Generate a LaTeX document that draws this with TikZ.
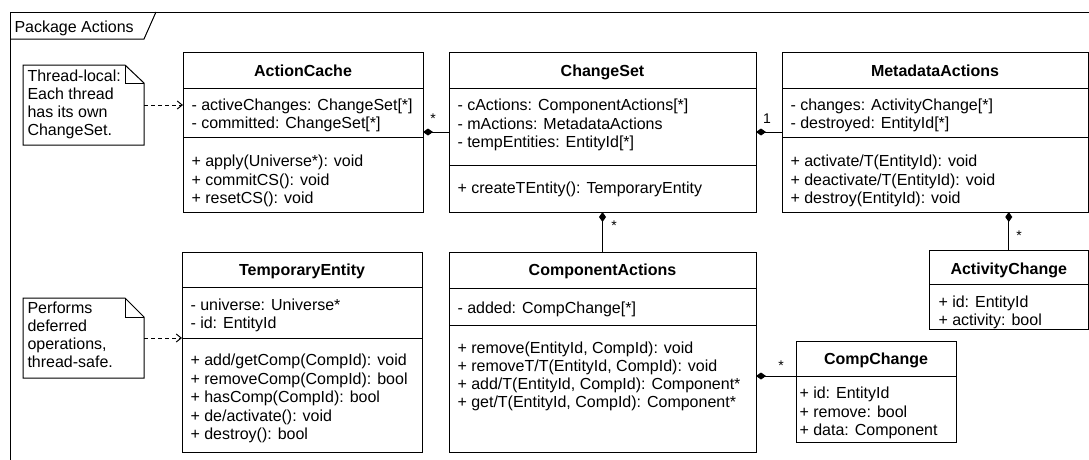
\documentclass[tikz,border=0pt]{standalone}
\usepackage{fontspec}
\setmainfont{Liberation Sans}
\usetikzlibrary{arrows.meta}
\newcommand\umllines[5]{\foreach \t [count=\i] in {#5} {\node[ln] (#1\i) at (#2,{#3+#4*(\i-1)}) {\t};}}
\begin{document}
\begin{tikzpicture}[x=1pt,y=-1pt,line width=1pt,
  box/.style={draw,inner sep=0pt,outer sep=0pt,anchor=north west},
  ln/.style={anchor=base west,inner sep=0pt,font=\fontsize{16}{18}\selectfont},
  ttl/.style={anchor=base,inner sep=0pt,font=\fontsize{16}{18}\selectfont\bfseries},
  mult/.style={anchor=base,inner sep=0pt,font=\fontsize{14}{16}\selectfont},
  comp/.style={{Diamond[length=10pt,width=7pt]}-},
  dep/.style={dash pattern=on 4pt off 3pt,-{Straight Barb[length=5pt,width=8pt]}}]
\useasboundingbox (0,0) rectangle (1089,459);
% frame
\draw (10,470) -- (10,12) -- (1100,12);
\draw (10,39) -- (144,39) -- (156,12);
\node[ln] (pkg) at (14,32.5) {Package Actions};

% ActionCache
\node[box,minimum width=240pt,minimum height=160pt] (ac) at (183,52) {};
\draw (ac.west |- 0,88) -- (ac.east |- 0,88);
\draw (ac.west |- 0,137) -- (ac.east |- 0,137);
\node[ttl] (act) at (303,76) {ActionCache};
\umllines{aca}{191}{110.5}{18}{{- activeChanges: ChangeSet[*]},{- committed: ChangeSet[*]}}
\umllines{acm}{191}{166.5}{18.5}{{+ apply(Universe*): void},{+ commitCS(): void},{+ resetCS(): void}}

% ChangeSet
\node[box,minimum width=307pt,minimum height=160pt] (cs) at (449,52) {};
\draw (cs.west |- 0,88) -- (cs.east |- 0,88);
\draw (cs.west |- 0,165) -- (cs.east |- 0,165);
\node[ttl] (cst) at (602.5,76) {ChangeSet};
\umllines{csa}{457}{110.5}{18.5}{{- cActions: ComponentActions[*]},{- mActions: MetadataActions},{- tempEntities: EntityId[*]}}
\umllines{csm}{457}{193.5}{18}{{+ createTEntity(): TemporaryEntity}}

% MetadataActions
\node[box,minimum width=306.5pt,minimum height=160pt] (md) at (782,52) {};
\draw (md.west |- 0,88) -- (md.east |- 0,88);
\draw (md.west |- 0,137) -- (md.east |- 0,137);
\node[ttl] (mdt) at (935,76) {MetadataActions};
\umllines{mda}{790}{110.5}{18}{{- changes: ActivityChange[*]},{- destroyed: EntityId[*]}}
\umllines{mdm}{790}{166.5}{18.5}{{+ activate/T(EntityId): void},{+ deactivate/T(EntityId): void},{+ destroy(EntityId): void}}

% TemporaryEntity
\node[box,minimum width=240pt,minimum height=200pt] (te) at (182,252) {};
\draw (te.west |- 0,287) -- (te.east |- 0,287);
\draw (te.west |- 0,338) -- (te.east |- 0,338);
\node[ttl] (tet) at (302,275.5) {TemporaryEntity};
\umllines{tea}{190}{310.5}{17.5}{{- universe: Universe*},{- id: EntityId}}
\umllines{tem}{190}{365.5}{18.6}{{+ add/getComp(CompId): void},{+ removeComp(CompId): bool},{+ hasComp(CompId): bool},{+ de/activate(): void},{+ destroy(): bool}}

% ComponentActions
\node[box,minimum width=307pt,minimum height=200pt] (ca) at (449,252) {};
\draw (ca.west |- 0,288) -- (ca.east |- 0,288);
\draw (ca.west |- 0,325) -- (ca.east |- 0,325);
\node[ttl] (cat) at (602.5,275.5) {ComponentActions};
\umllines{caa}{457}{313.5}{18}{{- added: CompChange[*]}}
\umllines{cam}{457}{353.5}{18}{{+ remove(EntityId, CompId): void},{+ removeT/T(EntityId, CompId): void},{+ add/T(EntityId, CompId): Component*},{+ get/T(EntityId, CompId): Component*}}

% ActivityChange
\node[box,minimum width=159.5pt,minimum height=79pt] (at) at (929,250) {};
\draw (at.west |- 0,284) -- (at.east |- 0,284);
\node[ttl] (att) at (1008.75,274.5) {ActivityChange};
\umllines{ata}{938}{307.5}{18}{{+ id: EntityId},{+ activity: bool}}

% CompChange
\node[box,minimum width=160pt,minimum height=101pt] (cch) at (796,341) {};
\coordinate (cch-sep) at (796,376);
\draw (cch-sep) -- (cch.east |- cch-sep);
\node[ttl] (ccht) at (876,364.5) {CompChange};
\umllines{ccha}{799}{398.5}{18.5}{{+ id: EntityId},{+ remove: bool},{+ data: Component}}

% notes
\node[inner sep=0pt,minimum width=120pt,minimum height=79pt,anchor=north west] (n1) at (23,65) {};
\draw (n1.north west) -- ([xshift=-19pt]n1.north east) -- ([yshift=-18pt]n1.north east) -- (n1.south east) -- (n1.south west) -- cycle;
\draw ([xshift=-19pt]n1.north east) -- ([xshift=-19pt,yshift=-18pt]n1.north east) -- ([yshift=-18pt]n1.north east);
\umllines{n1l}{27}{81.5}{18}{{Thread-local:},{Each thread},{has its own},{ChangeSet.}}

\node[inner sep=0pt,minimum width=120pt,minimum height=79pt,anchor=north west] (n2) at (23,298) {};
\draw (n2.north west) -- ([xshift=-19pt]n2.north east) -- ([yshift=-19pt]n2.north east) -- (n2.south east) -- (n2.south west) -- cycle;
\draw ([xshift=-19pt]n2.north east) -- ([xshift=-19pt,yshift=-19pt]n2.north east) -- ([yshift=-19pt]n2.north east);
\umllines{n2l}{27}{313.5}{18}{{Performs},{deferred},{operations,},{thread-safe.}}

% connectors
\draw[dep] (n1.east) -- (n1.east -| ac.west);
\draw[dep] (n2.east) -- (n2.east -| te.west);
\draw[comp] (ac.east) -- (cs.west);
\draw[comp] (cs.east) -- (md.west);
\draw[comp] (cs.south) -- (ca.north);
\draw[comp] (at.north |- md.south) -- (at.north);
\draw[comp] (ca.east |- cch-sep) -- (cch-sep);

% multiplicities
\node[mult] (m1) at (433,123) {*};
\node[mult] (m2) at (767,123) {1};
\node[mult] (m3) at (614,230) {*};
\node[mult] (m4) at (1019,240) {*};
\node[mult] (m5) at (781,370) {*};
\end{tikzpicture}
\end{document}
